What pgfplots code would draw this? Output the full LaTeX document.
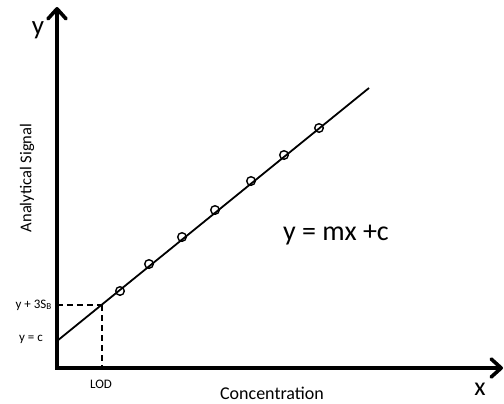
\documentclass[border=0pt]{standalone}
\usepackage{pgfplots}
\pgfplotsset{compat=1.18}
\usepackage{fontspec}
\setmainfont{Carlito}
\usetikzlibrary{arrows.meta}
\begin{document}
\begin{tikzpicture}
\begin{axis}[
  x=1bp, y=1bp,
  xmin=0, xmax=446, ymin=0, ymax=361,
  axis lines=left,
  axis line style={line width=3.6bp, line cap=rect, -{Straight Barb[length=10bp,width=18bp,line cap=round,line join=round]}},
  xtick=\empty, ytick=\empty,
  clip=false,
]
\addplot[line width=1.8bp, black] coordinates {(0,27) (312,280)};
\addplot[only marks, black, mark=o, mark size=4.3bp, mark options={line width=1.4bp}] coordinates {
(63,77) (92,104) (125,131) (158,158) (194,187) (227,213) (262,240)};
\addplot[black, line width=1.8bp, dash pattern=on 6bp off 4bp] coordinates {(0,63) (45,63)};
\addplot[black, line width=1.8bp, dash pattern=on 6bp off 4bp] coordinates {(45,63) (45,0)};
\node[anchor=base, inner sep=0, font=\fontsize{27bp}{30bp}\selectfont] at (axis cs:-19,334) {y};
\node[anchor=base, inner sep=0, font=\fontsize{26bp}{30bp}\selectfont] at (axis cs:423,-27) {x};
\node[rotate=90, inner sep=0, font=\fontsize{16.5bp}{20bp}\selectfont] at (axis cs:-30,190) {Analytical Signal};
\node[inner sep=0, font=\fontsize{18bp}{22bp}\selectfont] at (axis cs:215,-25.5) {Concentration};
\node[inner sep=0, font=\fontsize{13bp}{16bp}\selectfont] at (axis cs:44,-16) {LOD};
\node[anchor=east, inner sep=0, font=\fontsize{13bp}{16bp}\selectfont] at (axis cs:-5,63) {y + 3S\textsubscript{B}};
\node[anchor=east, inner sep=0, font=\fontsize{13bp}{16bp}\selectfont] at (axis cs:-14,29) {y = c};
\node[anchor=base west, inner sep=0, font=\fontsize{28bp}{32bp}\selectfont] at (axis cs:226,128) {y = mx +c};
\coordinate (bl) at (axis cs:-57,-35);
\coordinate (tr) at (axis cs:447,368);
\end{axis}
\pgfresetboundingbox
\path[use as bounding box] (bl) rectangle (tr);
\end{tikzpicture}
\end{document}
